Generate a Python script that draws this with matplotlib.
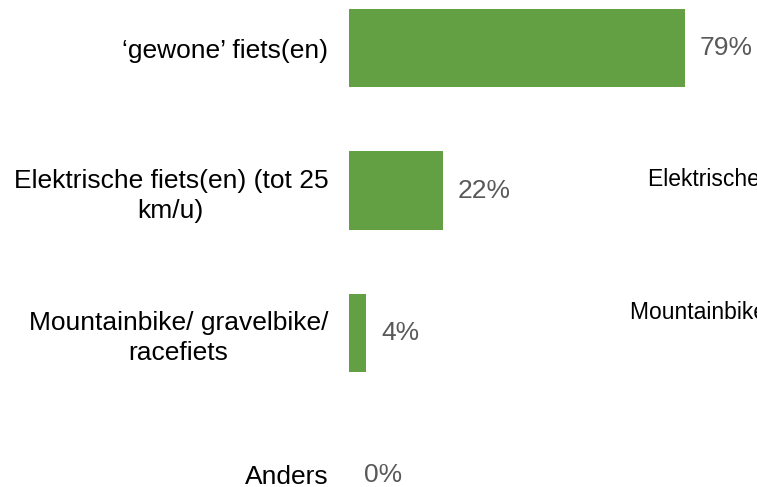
import matplotlib
matplotlib.use("Agg")
import matplotlib.pyplot as plt

# --- data ---
categories = ["\u2018gewone\u2019 fiets(en)",
              "Elektrische fiets(en) (tot 25\nkm/u)",
              "Mountainbike/ gravelbike/\nracefiets",
              "Anders"]
values = [79, 22, 4, 0]
value_labels = ["79%", "22%", "4%", "0%"]

bar_color = "#63A044"
label_gray = "#595959"

plt.rcParams["font.family"] = ["Liberation Sans", "DejaVu Sans"]

fig = plt.figure(figsize=(7.57, 4.87), dpi=100)
ax = fig.add_axes([349 / 757, 0, 1 - 349 / 757, 1])

pos = list(range(len(categories)))
ax.barh(pos, values, height=0.55, color=bar_color)

ax.set_xlim(0, 96)
ax.set_ylim(3.085, -0.34)

ax.set_yticks(pos)
ax.set_yticklabels(categories, fontsize=19, color="black", linespacing=1.3)
for lab in ax.get_yticklabels():
    lab.set_multialignment("center")
ax.tick_params(axis="y", length=0, pad=15)
ax.set_xticks([])
for s in ax.spines.values():
    s.set_visible(False)

for p, v, txt in zip(pos, values, value_labels):
    ax.annotate(txt, (v, p), xytext=(11, 0), textcoords="offset points",
                ha="left", va="center", fontsize=19, color=label_gray)

# labels of a neighbouring chart, cut off by the right edge
fig.text(648 / 757, 1 - 180 / 487, "Elektrische fiets(en) (tot 25 km/u)",
         fontsize=16.5, color="black", va="center", ha="left")
fig.text(630 / 757, 1 - 313 / 487, "Mountainbike/ gravelbike/ racefiets",
         fontsize=16.5, color="black", va="center", ha="left")

fig.savefig("out.png", dpi=100)
